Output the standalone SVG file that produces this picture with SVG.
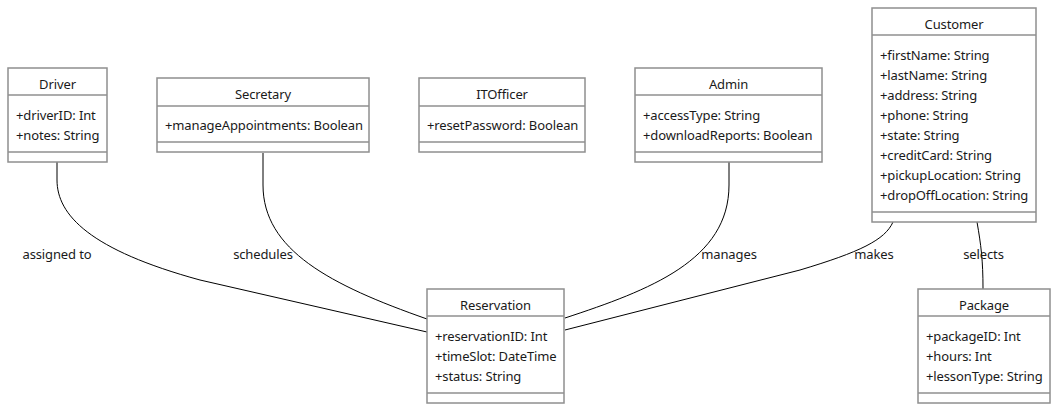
<svg xmlns="http://www.w3.org/2000/svg" width="1058" height="412" viewBox="0 0 1058 412">
<style>
.box{fill:#ffffff;stroke:#8f8f8f;stroke-width:1.5}
.div{stroke:#8f8f8f;stroke-width:1.5}
.t{font-family:"Noto Sans","Open Sans",sans-serif;font-size:13px;letter-spacing:-0.12px;fill:#1a1a1a}
.title{text-anchor:middle}
.edge{fill:none;stroke:#000000;stroke-width:1}
.lbl{font-family:"Noto Sans","Open Sans",sans-serif;font-size:13px;letter-spacing:-0.12px;fill:#1a1a1a;text-anchor:middle}
</style>
<rect width="1058" height="412" fill="#ffffff"/>
<g id="connectors">
<path class="edge" d="M57,162 L57,180 C57,215 90,250 200,280 L427,332"/>
<path class="edge" d="M263,153 L263,185 C263,250 330,285 427,319"/>
<path class="edge" d="M729,162 L729,185 C729,260 650,290 565,318"/>
<path class="edge" d="M893,222 C885,240 860,252 800,270 L565,330"/>
<path class="edge" d="M977,222 C981,245 983,260 983,289"/>
<text class="lbl" x="57" y="259">assigned to</text>
<text class="lbl" x="263" y="259">schedules</text>
<text class="lbl" x="729" y="259">manages</text>
<text class="lbl" x="874" y="259">makes</text>
<text class="lbl" x="983.5" y="259">selects</text>
</g>
<g id="Driver">
<rect class="box" x="8" y="68" width="99" height="94"/>
<line class="div" x1="8" y1="95" x2="107" y2="95"/>
<line class="div" x1="8" y1="152" x2="107" y2="152"/>
<text class="t title" x="57.5" y="88.5">Driver</text>
<text class="t" x="16" y="120">+driverID: Int</text>
<text class="t" x="16" y="140">+notes: String</text>
</g>
<g id="Secretary">
<rect class="box" x="157" y="78" width="212" height="74"/>
<line class="div" x1="157" y1="106" x2="369" y2="106"/>
<line class="div" x1="157" y1="142" x2="369" y2="142"/>
<text class="t title" x="263" y="98.5">Secretary</text>
<text class="t" x="165" y="130">+manageAppointments: Boolean</text>
</g>
<g id="ITOfficer">
<rect class="box" x="419" y="78" width="166" height="74"/>
<line class="div" x1="419" y1="106" x2="585" y2="106"/>
<line class="div" x1="419" y1="142" x2="585" y2="142"/>
<text class="t title" x="502" y="98.5">ITOfficer</text>
<text class="t" x="427" y="130">+resetPassword: Boolean</text>
</g>
<g id="Admin">
<rect class="box" x="635" y="68" width="187" height="94"/>
<line class="div" x1="635" y1="95" x2="822" y2="95"/>
<line class="div" x1="635" y1="152" x2="822" y2="152"/>
<text class="t title" x="728.5" y="88.5">Admin</text>
<text class="t" x="643" y="120">+accessType: String</text>
<text class="t" x="643" y="140">+downloadReports: Boolean</text>
</g>
<g id="Customer">
<rect class="box" x="872" y="8" width="164" height="214"/>
<line class="div" x1="872" y1="35" x2="1036" y2="35"/>
<line class="div" x1="872" y1="212" x2="1036" y2="212"/>
<text class="t title" x="954" y="28.5">Customer</text>
<text class="t" x="880" y="60">+firstName: String</text>
<text class="t" x="880" y="80">+lastName: String</text>
<text class="t" x="880" y="100">+address: String</text>
<text class="t" x="880" y="120">+phone: String</text>
<text class="t" x="880" y="140">+state: String</text>
<text class="t" x="880" y="160">+creditCard: String</text>
<text class="t" x="880" y="180">+pickupLocation: String</text>
<text class="t" x="880" y="200">+dropOffLocation: String</text>
</g>
<g id="Reservation">
<rect class="box" x="427" y="289" width="137" height="114"/>
<line class="div" x1="427" y1="316" x2="564" y2="316"/>
<line class="div" x1="427" y1="393" x2="564" y2="393"/>
<text class="t title" x="495.5" y="309.5">Reservation</text>
<text class="t" x="435" y="341">+reservationID: Int</text>
<text class="t" x="435" y="361">+timeSlot: DateTime</text>
<text class="t" x="435" y="381">+status: String</text>
</g>
<g id="Package">
<rect class="box" x="918" y="289" width="132" height="114"/>
<line class="div" x1="918" y1="316" x2="1050" y2="316"/>
<line class="div" x1="918" y1="393" x2="1050" y2="393"/>
<text class="t title" x="984" y="309.5">Package</text>
<text class="t" x="926" y="341">+packageID: Int</text>
<text class="t" x="926" y="361">+hours: Int</text>
<text class="t" x="926" y="381">+lessonType: String</text>
</g>
</svg>
